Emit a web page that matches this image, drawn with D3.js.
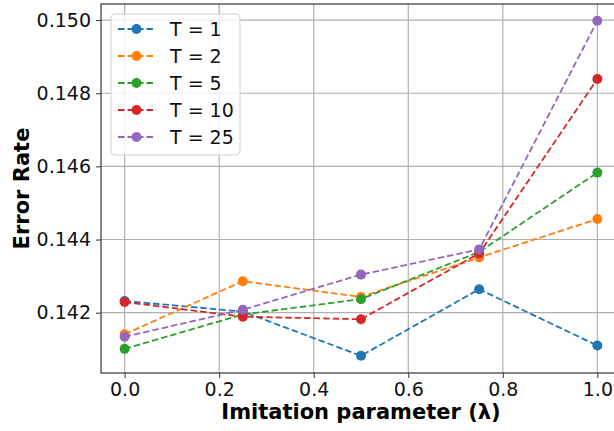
<!DOCTYPE html>
<html>
<head>
<meta charset="utf-8">
<script src="https://cdn.jsdelivr.net/npm/d3@7"></script>
<style>
  body { margin: 0; background: #fff; }
  svg { display: block; font-family: "DejaVu Sans", sans-serif; }
</style>
</head>
<body>
<svg id="chart" width="614" height="431"></svg>
<script>
// data
const lambdas = [0.0, 0.25, 0.5, 0.75, 1.0];
const seriesNames = ["T = 1", "T = 2", "T = 5", "T = 10", "T = 25"];
const colors = ["#1f77b4", "#ff7f0e", "#2ca02c", "#d62728", "#9467bd"];
const t1 = [0.14232, 0.14203, 0.14082, 0.14264, 0.14110];
const t2 = [0.14141, 0.14286, 0.14243, 0.14351, 0.14456];
const t5 = [0.14101, 0.14195, 0.14237, 0.14366, 0.14583];
const t10 = [0.14229, 0.14189, 0.14182, 0.14362, 0.14839];
const t25 = [0.14134, 0.14208, 0.14304, 0.14373, 0.14998];
const xTicks = [0.0, 0.2, 0.4, 0.6, 0.8, 1.0];
const yTicks = [0.142, 0.144, 0.146, 0.148, 0.150];

const series = [t1, t2, t5, t10, t25].map((vals, i) => ({
    name: seriesNames[i],
    color: colors[i],
    values: vals.map((v, j) => ({ x: lambdas[j], y: v }))
}));

const svg = d3.select("#chart");
const margin = { top: 4, right: -7, bottom: 58, left: 101 };
const width = +svg.attr("width") - margin.left - margin.right;
const height = +svg.attr("height") - margin.top - margin.bottom;
const g = svg.append("g").attr("transform", `translate(${margin.left},${margin.top})`);

const x = d3.scaleLinear().domain([-0.05, 1.05]).range([0, width]);
const y = d3.scaleLinear().domain([0.14035, 0.15044]).range([height, 0]);

// grid
g.append("g").selectAll("line").data(xTicks).join("line")
    .attr("x1", d => x(d)).attr("x2", d => x(d))
    .attr("y1", 0).attr("y2", height)
    .attr("stroke", "#b0b0b0").attr("stroke-width", 1.2);
g.append("g").selectAll("line").data(yTicks).join("line")
    .attr("y1", d => y(d)).attr("y2", d => y(d))
    .attr("x1", 0).attr("x2", width)
    .attr("stroke", "#b0b0b0").attr("stroke-width", 1.2);

// axes
const xAxis = g.append("g")
    .attr("transform", `translate(0,${height})`)
    .call(d3.axisBottom(x).tickValues(xTicks).tickFormat(d3.format(".1f")).tickSize(5).tickPadding(5));
const yAxis = g.append("g")
    .call(d3.axisLeft(y).tickValues(yTicks).tickFormat(d3.format(".3f")).tickSize(5).tickPadding(5));
[xAxis, yAxis].forEach(a => {
    a.select(".domain").remove();
    a.selectAll(".tick line").attr("stroke", "#333").attr("stroke-width", 1);
    a.selectAll(".tick text").attr("fill", "#111").style("font-size", "19px")
        .style("font-family", "DejaVu Sans");
});

// spines
g.append("rect")
    .attr("width", width).attr("height", height)
    .attr("fill", "none").attr("stroke", "#333").attr("stroke-width", 1.2);

// lines and markers
const line = d3.line().x(d => x(d.x)).y(d => y(d.y));
series.forEach(s => {
    g.append("path")
        .datum(s.values)
        .attr("d", line)
        .attr("fill", "none")
        .attr("stroke", s.color)
        .attr("stroke-width", 1.8)
        .attr("stroke-dasharray", "6.5,3");
    g.append("g").selectAll("circle").data(s.values).join("circle")
        .attr("cx", d => x(d.x)).attr("cy", d => y(d.y))
        .attr("r", 5).attr("fill", s.color);
});

// axis labels
svg.append("text")
    .attr("x", margin.left + width / 2).attr("y", 419)
    .attr("text-anchor", "middle")
    .style("font-size", "21px").style("font-weight", "bold")
    .text("Imitation parameter (λ)");
svg.append("text")
    .attr("transform", `translate(29,${margin.top + height / 2}) rotate(-90)`)
    .attr("text-anchor", "middle")
    .style("font-size", "21px").style("font-weight", "bold")
    .text("Error Rate");

// legend
const legend = svg.append("g").attr("transform", "translate(111,14)");
legend.append("rect")
    .attr("width", 129).attr("height", 141).attr("rx", 4)
    .attr("fill", "#fff").attr("fill-opacity", 0.8)
    .attr("stroke", "#d0d0d0").attr("stroke-width", 1);
series.forEach((s, i) => {
    const row = legend.append("g").attr("transform", `translate(0,${15 + i * 27})`);
    row.append("line")
        .attr("x1", 7).attr("x2", 44)
        .attr("stroke", s.color).attr("stroke-width", 1.8)
        .attr("stroke-dasharray", "6.5,3");
    row.append("circle").attr("cx", 25.5).attr("r", 5).attr("fill", s.color);
    row.append("text")
        .attr("x", 59).attr("dy", "0.35em")
        .style("font-size", "19px").attr("fill", "#111")
        .text(s.name);
});
</script>
</body>
</html>
